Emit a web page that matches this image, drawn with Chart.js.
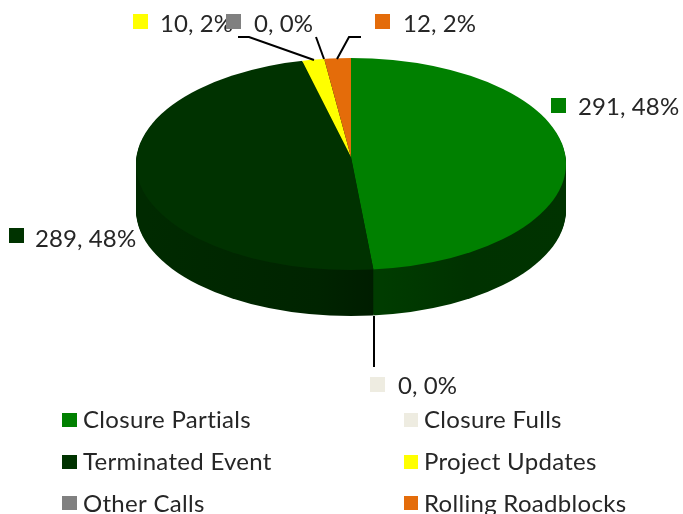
<!DOCTYPE html>
<html>
<head>
<meta charset="utf-8">
<style>
  html, body { margin: 0; background: #fff; }
  canvas { display: block; }
</style>
<script src="https://cdn.jsdelivr.net/npm/chart.js@4"></script>
</head>
<body>
<canvas id="chart" width="683" height="514"></canvas>
<script>
// ── Data ───────────────────────────────────────────────────────────────────
const categories = ["Closure Partials", "Closure Fulls", "Terminated Event", "Project Updates", "Other Calls", "Rolling Roadblocks"];
const callCounts = [291, 0, 289, 10, 0, 12];
const sliceColors = ["#008000", "#eeece1", "#003200", "#ffff00", "#808080", "#e46c0a"];
const legendColors = ["#008000", "#eeece1", "#003300", "#ffff00", "#808080", "#e46c0a"];

// ── Layout ─────────────────────────────────────────────────────────────────
const FONT = '"Lato", "Open Sans", sans-serif';
const TEXT = "#262626";
const oval = { x: 351, y: 164, rx: 215, ry: 106, depth: 46 };
const apexY = 157;                 // slices meet above the oval's centre (perspective)
const squashTop = 99 / 215;
const squashBottom = 113 / 215;

// swatch left/top, text left, text middle for each slice label
const labelSpots = [
  { sx: 551, sy: 98,  tx: 578, ty: 107 },
  { sx: 370, sy: 377, tx: 398, ty: 386 },
  { sx: 9,   sy: 228, tx: 35,  ty: 239 },
  { sx: 133, sy: 14,  tx: 160, ty: 24 },
  { sx: 226, sy: 14,  tx: 254, ty: 24 },
  { sx: 375, sy: 14,  tx: 403, ty: 24 },
];
const leaderLines = [
  [[374, 316], [374, 367]],
  [[238, 37], [249, 37], [314, 60]],
  [[316, 37], [324, 59]],
  [[361, 37], [349, 37], [337, 59]],
];
const legendSpots = [
  { sx: 62,  sy: 413, tx: 83,  y: 420 },
  { sx: 404, sy: 413, tx: 424, y: 420 },
  { sx: 62,  sy: 455, tx: 83,  y: 462 },
  { sx: 404, sy: 455, tx: 424, y: 462 },
  { sx: 62,  sy: 496, tx: 83,  y: 504 },
  { sx: 404, sy: 496, tx: 424, y: 504 },
];

// ── Tilted pie: library arcs squashed, stacked for the rim ─────────────────
function drawArcs(ctx, meta, offsetY, fillFor) {
  const cx = meta.data[0].x;
  const cy = meta.data[0].y;
  ctx.save();
  ctx.beginPath();
  ctx.ellipse(oval.x, oval.y + offsetY, oval.rx, oval.ry, 0, 0, Math.PI * 2);
  ctx.clip();
  [[0, apexY + offsetY, squashTop], [apexY + offsetY, 514, squashBottom]].forEach(([from, to, squash]) => {
    ctx.save();
    ctx.beginPath();
    ctx.rect(0, from, 683, to - from);
    ctx.clip();
    ctx.translate(oval.x, apexY + offsetY);
    ctx.scale(1, squash);
    ctx.translate(-cx, -cy);
    meta.data.forEach((arc, i) => {
      const copy = Object.create(arc);
      copy.options = Object.assign({}, arc.options, { backgroundColor: fillFor(i) });
      copy.draw(ctx);
    });
    ctx.restore();
  });
  ctx.restore();
}

function rimGradient(ctx, stops) {
  const g = ctx.createLinearGradient(oval.x - oval.rx, 0, oval.x + oval.rx, 0);
  stops.forEach(([at, color]) => g.addColorStop(at, color));
  return g;
}

const tiltedPie = {
  id: "tiltedPie",
  beforeDatasetsDraw(chart) {
    const ctx = chart.ctx;
    const meta = chart.getDatasetMeta(0);
    const rimDark = rimGradient(ctx, [[0, "#002a00"], [0.4, "#002400"], [0.55, "#001c00"]]);
    const rimGreen = rimGradient(ctx, [[0.55, "#003c00"], [0.75, "#003200"], [1, "#003300"]]);
    const rimFill = (i) => (i === 0 ? rimGreen : rimDark);
    for (let d = oval.depth; d > 0; d--) drawArcs(ctx, meta, d, rimFill);
    drawArcs(ctx, meta, 0, (i) => sliceColors[i]);
    return false;
  },
  afterDraw(chart) {
    const ctx = chart.ctx;
    const total = callCounts.reduce((a, b) => a + b, 0);

    ctx.strokeStyle = "#000";
    ctx.lineWidth = 2;
    leaderLines.forEach((pts) => {
      ctx.beginPath();
      pts.forEach(([x, y], i) => (i ? ctx.lineTo(x, y) : ctx.moveTo(x, y)));
      ctx.stroke();
    });

    ctx.textBaseline = "middle";
    ctx.textAlign = "left";
    ctx.font = `24px ${FONT}`;
    ctx.letterSpacing = "0.1px";   // also stops Lato's "ti" ligature
    labelSpots.forEach((s, i) => {
      ctx.fillStyle = legendColors[i];
      ctx.fillRect(s.sx, s.sy, 15, 15);
      ctx.fillStyle = TEXT;
      ctx.fillText(`${callCounts[i]}, ${Math.round(callCounts[i] / total * 100)}%`, s.tx, s.ty);
    });

    ctx.letterSpacing = "0.3px";
    legendSpots.forEach((s, i) => {
      ctx.fillStyle = legendColors[i];
      ctx.fillRect(s.sx, s.sy, s.sx > 100 ? 14 : 15, 14);
      ctx.fillStyle = TEXT;
      ctx.fillText(categories[i], s.tx, s.y);
    });
  },
};

// ── Chart ──────────────────────────────────────────────────────────────────
new Chart(document.getElementById("chart"), {
  type: "pie",
  data: {
    labels: categories,
    datasets: [{ data: callCounts, backgroundColor: sliceColors, borderWidth: 0 }],
  },
  options: {
    responsive: false,
    animation: false,
    plugins: { legend: { display: false }, tooltip: { enabled: false } },
  },
  plugins: [tiltedPie],
});
</script>
</body>
</html>
